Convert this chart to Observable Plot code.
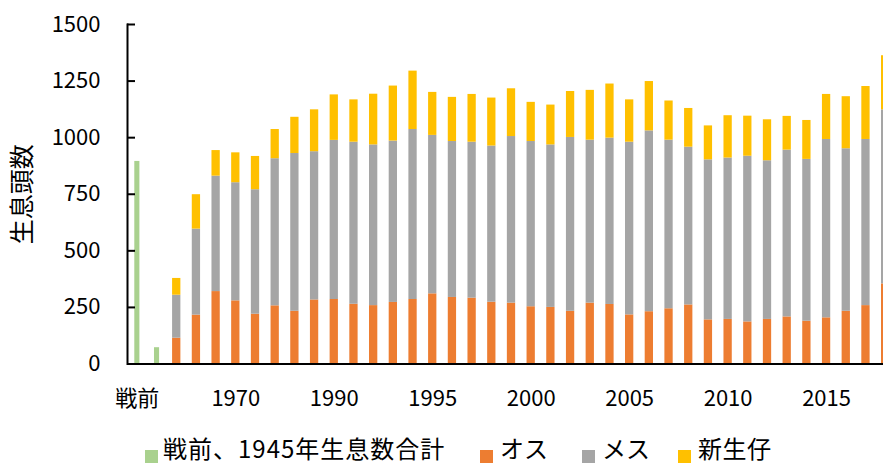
<!DOCTYPE html>
<html><head><meta charset="utf-8">
<script src="https://cdn.jsdelivr.net/npm/d3@7"></script>
<script src="https://cdn.jsdelivr.net/npm/@observablehq/plot@0.6"></script>
<style>
html,body{margin:0;padding:0;background:#fff;overflow:hidden;width:883px;height:466px}
#wrap{position:relative;width:883px;height:466px;overflow:hidden}
#legend{position:absolute;top:420px;left:0;width:883px;height:46px;font-family:"Noto Sans CJK JP",sans-serif;font-size:24px;color:#000}
.sw{position:absolute;top:30px;width:13px;height:13px}
.lt{position:absolute;top:15px;line-height:26px;white-space:nowrap}
</style></head>
<body><div id="wrap"><div id="chart"></div><div id="legend"></div></div>
<script>
const categories = ["戦前","1945","1955","1960","1965","1970","1974","1978","1982","1986",
  "1990","1991","1992","1993","1994","1995","1996","1997","1998","1999",
  "2000","2001","2002","2003","2004","2005","2006","2007","2008","2009",
  "2010","2011","2012","2013","2014","2015","2016","2017","2018"];
const tickLabels = ["戦前","1970","1990","1995","2000","2005","2010","2015"];
const prewarTotal = [895, 72, null, null, null, null, null, null, null, null,
  null, null, null, null, null, null, null, null, null, null,
  null, null, null, null, null, null, null, null, null, null,
  null, null, null, null, null, null, null, null, null];
const male = [null, null, 114, 216, 320, 279, 220, 257, 233, 283,
  285, 264, 258, 272, 285, 310, 294, 291, 273, 269,
  253, 250, 233, 269, 263, 217, 231, 244, 261, 195,
  197, 186, 197, 208, 189, 204, 233, 258, 354];
const female = [null, null, 190, 380, 510, 522, 550, 650, 697, 655,
  703, 716, 710, 713, 751, 700, 689, 689, 690, 736,
  730, 718, 768, 720, 735, 763, 799, 745, 697, 707,
  713, 732, 701, 737, 715, 788, 718, 734, 769];
const fawn = [null, null, 74, 152, 113, 132, 147, 129, 160, 185,
  201, 187, 224, 243, 258, 190, 195, 211, 212, 211,
  173, 176, 203, 220, 239, 187, 218, 173, 171, 150,
  187, 177, 181, 149, 172, 199, 230, 234, 239];
const seriesNames = ["戦前、1945年生息数合計", "オス", "メス", "新生仔"];
const seriesColors = ["#A9D18E", "#ED7D31", "#A5A5A5", "#FFC000"];
const yTicks = [0, 250, 500, 750, 1000, 1250, 1500];

const greenData = categories.map((c, i) => ({cat: c, value: prewarTotal[i]})).filter(d => d.value != null);
const stackData = [];
categories.forEach((c, i) => {
  if (male[i] == null) return;
  stackData.push({cat: c, series: seriesNames[1], value: male[i]});
  stackData.push({cat: c, series: seriesNames[2], value: female[i]});
  stackData.push({cat: c, series: seriesNames[3], value: fawn[i]});
});

const W = 900, H = 420, ML = 127, MR = 5, MT = 24, MB = 56.5;
const frameW = W - ML - MR;

const chart = Plot.plot({
  width: W, height: H,
  marginLeft: ML, marginRight: MR, marginTop: MT, marginBottom: MB,
  style: {fontFamily: '"Noto Sans CJK JP", "Noto Sans", sans-serif', fontSize: "22px", color: "#000", maxWidth: "none", overflow: "visible", background: "transparent"},
  x: {type: "band", domain: categories, padding: 0, align: 0.5, round: false},
  y: {domain: [0, 1500]},
  color: {domain: seriesNames, range: seriesColors},
  marks: [
    Plot.barY(greenData, {x: "cat", y: "value", fill: seriesColors[0], insetLeft: 7.3, insetRight: 7.3}),
    Plot.barY(stackData, {x: "cat", y: "value", fill: "series", z: "series", insetLeft: 5.7, insetRight: 5.7}),
    Plot.ruleY(yTicks, {stroke: "#000", strokeWidth: 2, insetRight: frameW - 8}),
    Plot.frame({anchor: "left", stroke: "#000", strokeWidth: 2}),
    Plot.ruleY([0], {stroke: "#000", strokeWidth: 2}),
    Plot.axisY(yTicks, {tickSize: 0, tickPadding: 27, label: null, fontSize: 22, fill: "#000", tickFormat: d => String(d)}),
    Plot.axisX({ticks: tickLabels, tickSize: 0, tickPadding: 26, label: null, fontSize: 22, fill: "#000"}),
    Plot.text(["生息頭数"], {frameAnchor: "left", textAnchor: "middle", dx: -105, rotate: -90, fontSize: 25, fill: "#000"})
  ]
});
document.getElementById("chart").appendChild(chart);

const legend = document.getElementById("legend");
const swLeft = [145, 480, 582, 678];
const txLeft = [163, 500, 602, 698];
const spacing = ["1px", "0px", "0px", "0.5px"];
seriesNames.forEach((name, i) => {
  const sw = document.createElement("div");
  sw.className = "sw";
  sw.style.left = swLeft[i] + "px";
  sw.style.background = seriesColors[i];
  legend.appendChild(sw);
  const t = document.createElement("div");
  t.className = "lt";
  t.style.left = txLeft[i] + "px";
  t.style.letterSpacing = spacing[i];
  t.textContent = name;
  legend.appendChild(t);
});
</script>
</body></html>
